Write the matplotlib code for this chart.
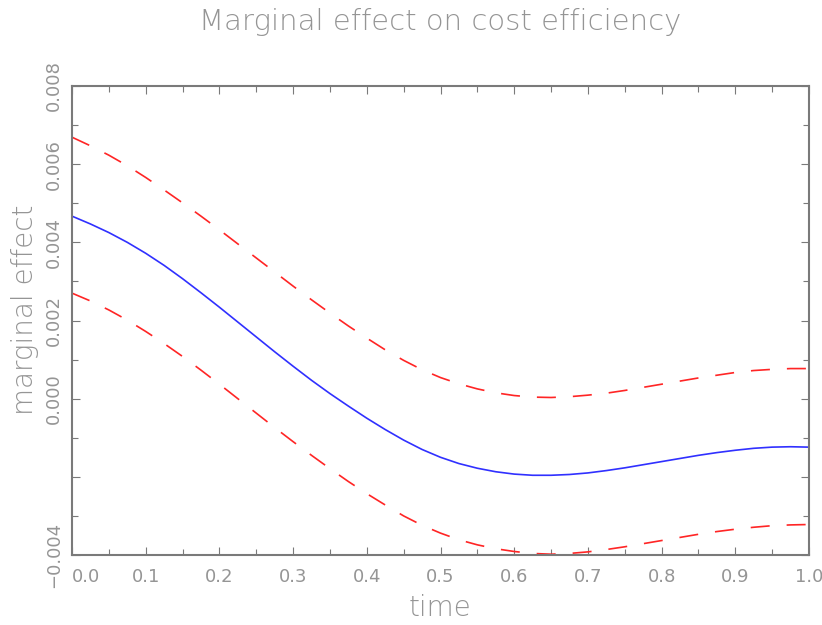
import matplotlib
matplotlib.use("Agg")
import matplotlib.pyplot as plt
from matplotlib.ticker import MultipleLocator, FixedLocator, FixedFormatter

# data
time = [0.000, 0.025, 0.050, 0.075, 0.100, 0.125, 0.150, 0.175, 0.200, 0.225,
        0.250, 0.275, 0.300, 0.325, 0.350, 0.375, 0.400, 0.425, 0.450, 0.475,
        0.500, 0.525, 0.550, 0.575, 0.600, 0.625, 0.650, 0.675, 0.700, 0.725,
        0.750, 0.775, 0.800, 0.825, 0.850, 0.875, 0.900, 0.925, 0.950, 0.975,
        1.000]
effect = [0.00467, 0.00447, 0.00425, 0.00400, 0.00372, 0.00341, 0.00307,
          0.00271, 0.00234, 0.00196, 0.00158, 0.00120, 0.00083, 0.00047,
          0.00013, -0.00019, -0.00050, -0.00079, -0.00106, -0.00130,
          -0.00150, -0.00166, -0.00178, -0.00187, -0.00193, -0.00196,
          -0.00196, -0.00194, -0.00190, -0.00184, -0.00177, -0.00169,
          -0.00161, -0.00153, -0.00145, -0.00138, -0.00132, -0.00127,
          -0.00124, -0.00123, -0.00124]
upper = [0.00669, 0.00647, 0.00623, 0.00596, 0.00566, 0.00534, 0.00501,
         0.00467, 0.00432, 0.00396, 0.00360, 0.00324, 0.00288, 0.00253,
         0.00219, 0.00186, 0.00155, 0.00125, 0.00098, 0.00074, 0.00054,
         0.00038, 0.00025, 0.00015, 0.00008, 0.00004, 0.00003, 0.00005,
         0.00009, 0.00014, 0.00021, 0.00029, 0.00037, 0.00045, 0.00053,
         0.00060, 0.00067, 0.00072, 0.00075, 0.00077, 0.00077]
lower = [0.00270, 0.00250, 0.00227, 0.00201, 0.00172, 0.00141, 0.00108,
         0.00073, 0.00037, 0.00000, -0.00037, -0.00074, -0.00110,
         -0.00145, -0.00179, -0.00212, -0.00243, -0.00272, -0.00300,
         -0.00324, -0.00344, -0.00361, -0.00374, -0.00384, -0.00391,
         -0.00396, -0.00398, -0.00396, -0.00392, -0.00386, -0.00379,
         -0.00371, -0.00363, -0.00355, -0.00347, -0.00340, -0.00334,
         -0.00329, -0.00325, -0.00323, -0.00322]

xticks = [0.0, 0.1, 0.2, 0.3, 0.4, 0.5, 0.6, 0.7, 0.8, 0.9, 1.0]
xticklabels = ["0.0", "0.1", "0.2", "0.3", "0.4", "0.5", "0.6", "0.7", "0.8", "0.9", "1.0"]
yticks = [-0.004, -0.002, 0.000, 0.002, 0.004, 0.006, 0.008]
yticklabels = ["\u22120.004", "", "0.000", "0.002", "0.004", "0.006", "0.008"]

title = "Marginal effect on cost efficiency"
xlabel = "time"
ylabel = "marginal effect"

TXT = "#959595"
AX = "#7a7a7a"
plt.rcParams["font.family"] = ["DejaVu Sans"]

fig = plt.figure(figsize=(8.22, 6.25), dpi=100)
ax = fig.add_axes([72/822, 1-555/625, (809-72)/822, (555-86)/625])

ax.plot(time, upper, color="#ff2525", lw=1.2, ls=(0, (11.4, 10.2)), clip_on=False)
ax.plot(time, lower, color="#ff2525", lw=1.2, ls=(0, (11.4, 10.2)), clip_on=False)
ax.plot(time, effect, color="#3030ff", lw=1.2)

ax.set_xlim(0.0, 1.0)
ax.set_ylim(-0.004, 0.008)

ax.xaxis.set_major_locator(FixedLocator(xticks))
ax.xaxis.set_major_formatter(FixedFormatter(xticklabels))
ax.xaxis.set_minor_locator(MultipleLocator(0.05))
ax.yaxis.set_major_locator(FixedLocator(yticks))
ax.yaxis.set_major_formatter(FixedFormatter(yticklabels))
ax.yaxis.set_minor_locator(MultipleLocator(0.001))

for s in ax.spines.values():
    s.set_color(AX)
    s.set_linewidth(1.5)

ax.tick_params(which="both", direction="in", top=True, right=True,
               color=AX, labelcolor=TXT, labelsize=13)
ax.tick_params(which="major", length=6, width=0.8)
ax.tick_params(which="minor", length=4, width=0.8)
ax.tick_params(axis="x", which="major", pad=9)
ax.tick_params(axis="y", which="major", pad=6.5)

for lab in ax.get_yticklabels():
    lab.set_rotation(90)
    lab.set_va("center")
for i, lab in enumerate(ax.get_xticklabels()):
    if i == 0:
        lab.set_ha("left")

fig.text(440/822, 1-22/625, title, ha="center", va="center",
         fontsize=21, color=TXT, fontweight="light")
fig.text(440/822, 1-608/625, xlabel, ha="center", va="center",
         fontsize=20, color=TXT, fontweight="light")
fig.text(25/822, 1-310/625, ylabel, ha="center", va="center",
         rotation=90, fontsize=20, color=TXT, fontweight="light")

fig.savefig("out.png", dpi=100)
